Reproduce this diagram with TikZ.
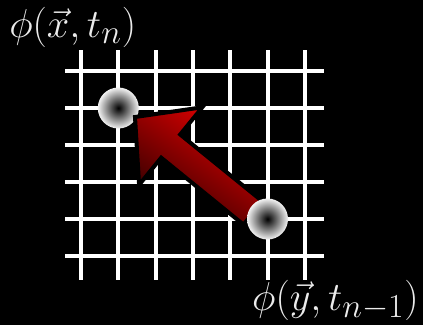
\documentclass[tikz,border=0pt]{standalone}
\begin{document}
\begin{tikzpicture}[x=1pt,y=-1pt,
  gridline/.style={white,line width=4pt},
  blob/.style={circle,minimum size=41pt,inner sep=0pt,shade,inner color=black,outer color=white!95!black},
  lbl/.style={text=white!92!black,inner sep=0pt,font=\Huge,scale=1.62,transform shape}]
\fill[black] (0,0) rectangle (423,325);
\useasboundingbox (0,0) rectangle (423,325);
% grid
\foreach \x in {81,118.3,155.6,192.9,230.2,267.5,304.8}
  \draw[gridline] (\x,50) -- (\x,280);
\foreach \y in {71,108,145,182,219,256}
  \draw[gridline] (65,\y) -- (324,\y);
% first blob
\node[blob] (p1) at (118.3,108) {};
% arrow
\coordinate (tail) at (253,213);
\coordinate (tip) at (135,117);
\shade[top color={rgb,255:red,230;green,0;blue,0},bottom color={rgb,255:red,45;green,0;blue,0},shading angle=-35,
  draw=black,line width=4pt,line join=miter]
  (262.5,201.4) -- (180.2,134.5) -- (202.3,107.3) -- (tip) -- (139.1,184.9) -- (161.2,157.7) -- (243.5,224.6) -- cycle;
% second blob
\node[blob] (p2) at (267.5,219) {};
% labels
\node[lbl,anchor=base west] (lx) at (9,37) {$\phi(\vec{x},t_n)$};
\node[lbl,anchor=base east] (ly) at (419,310) {$\phi(\vec{y},t_{n-1})$};
\end{tikzpicture}
\end{document}
